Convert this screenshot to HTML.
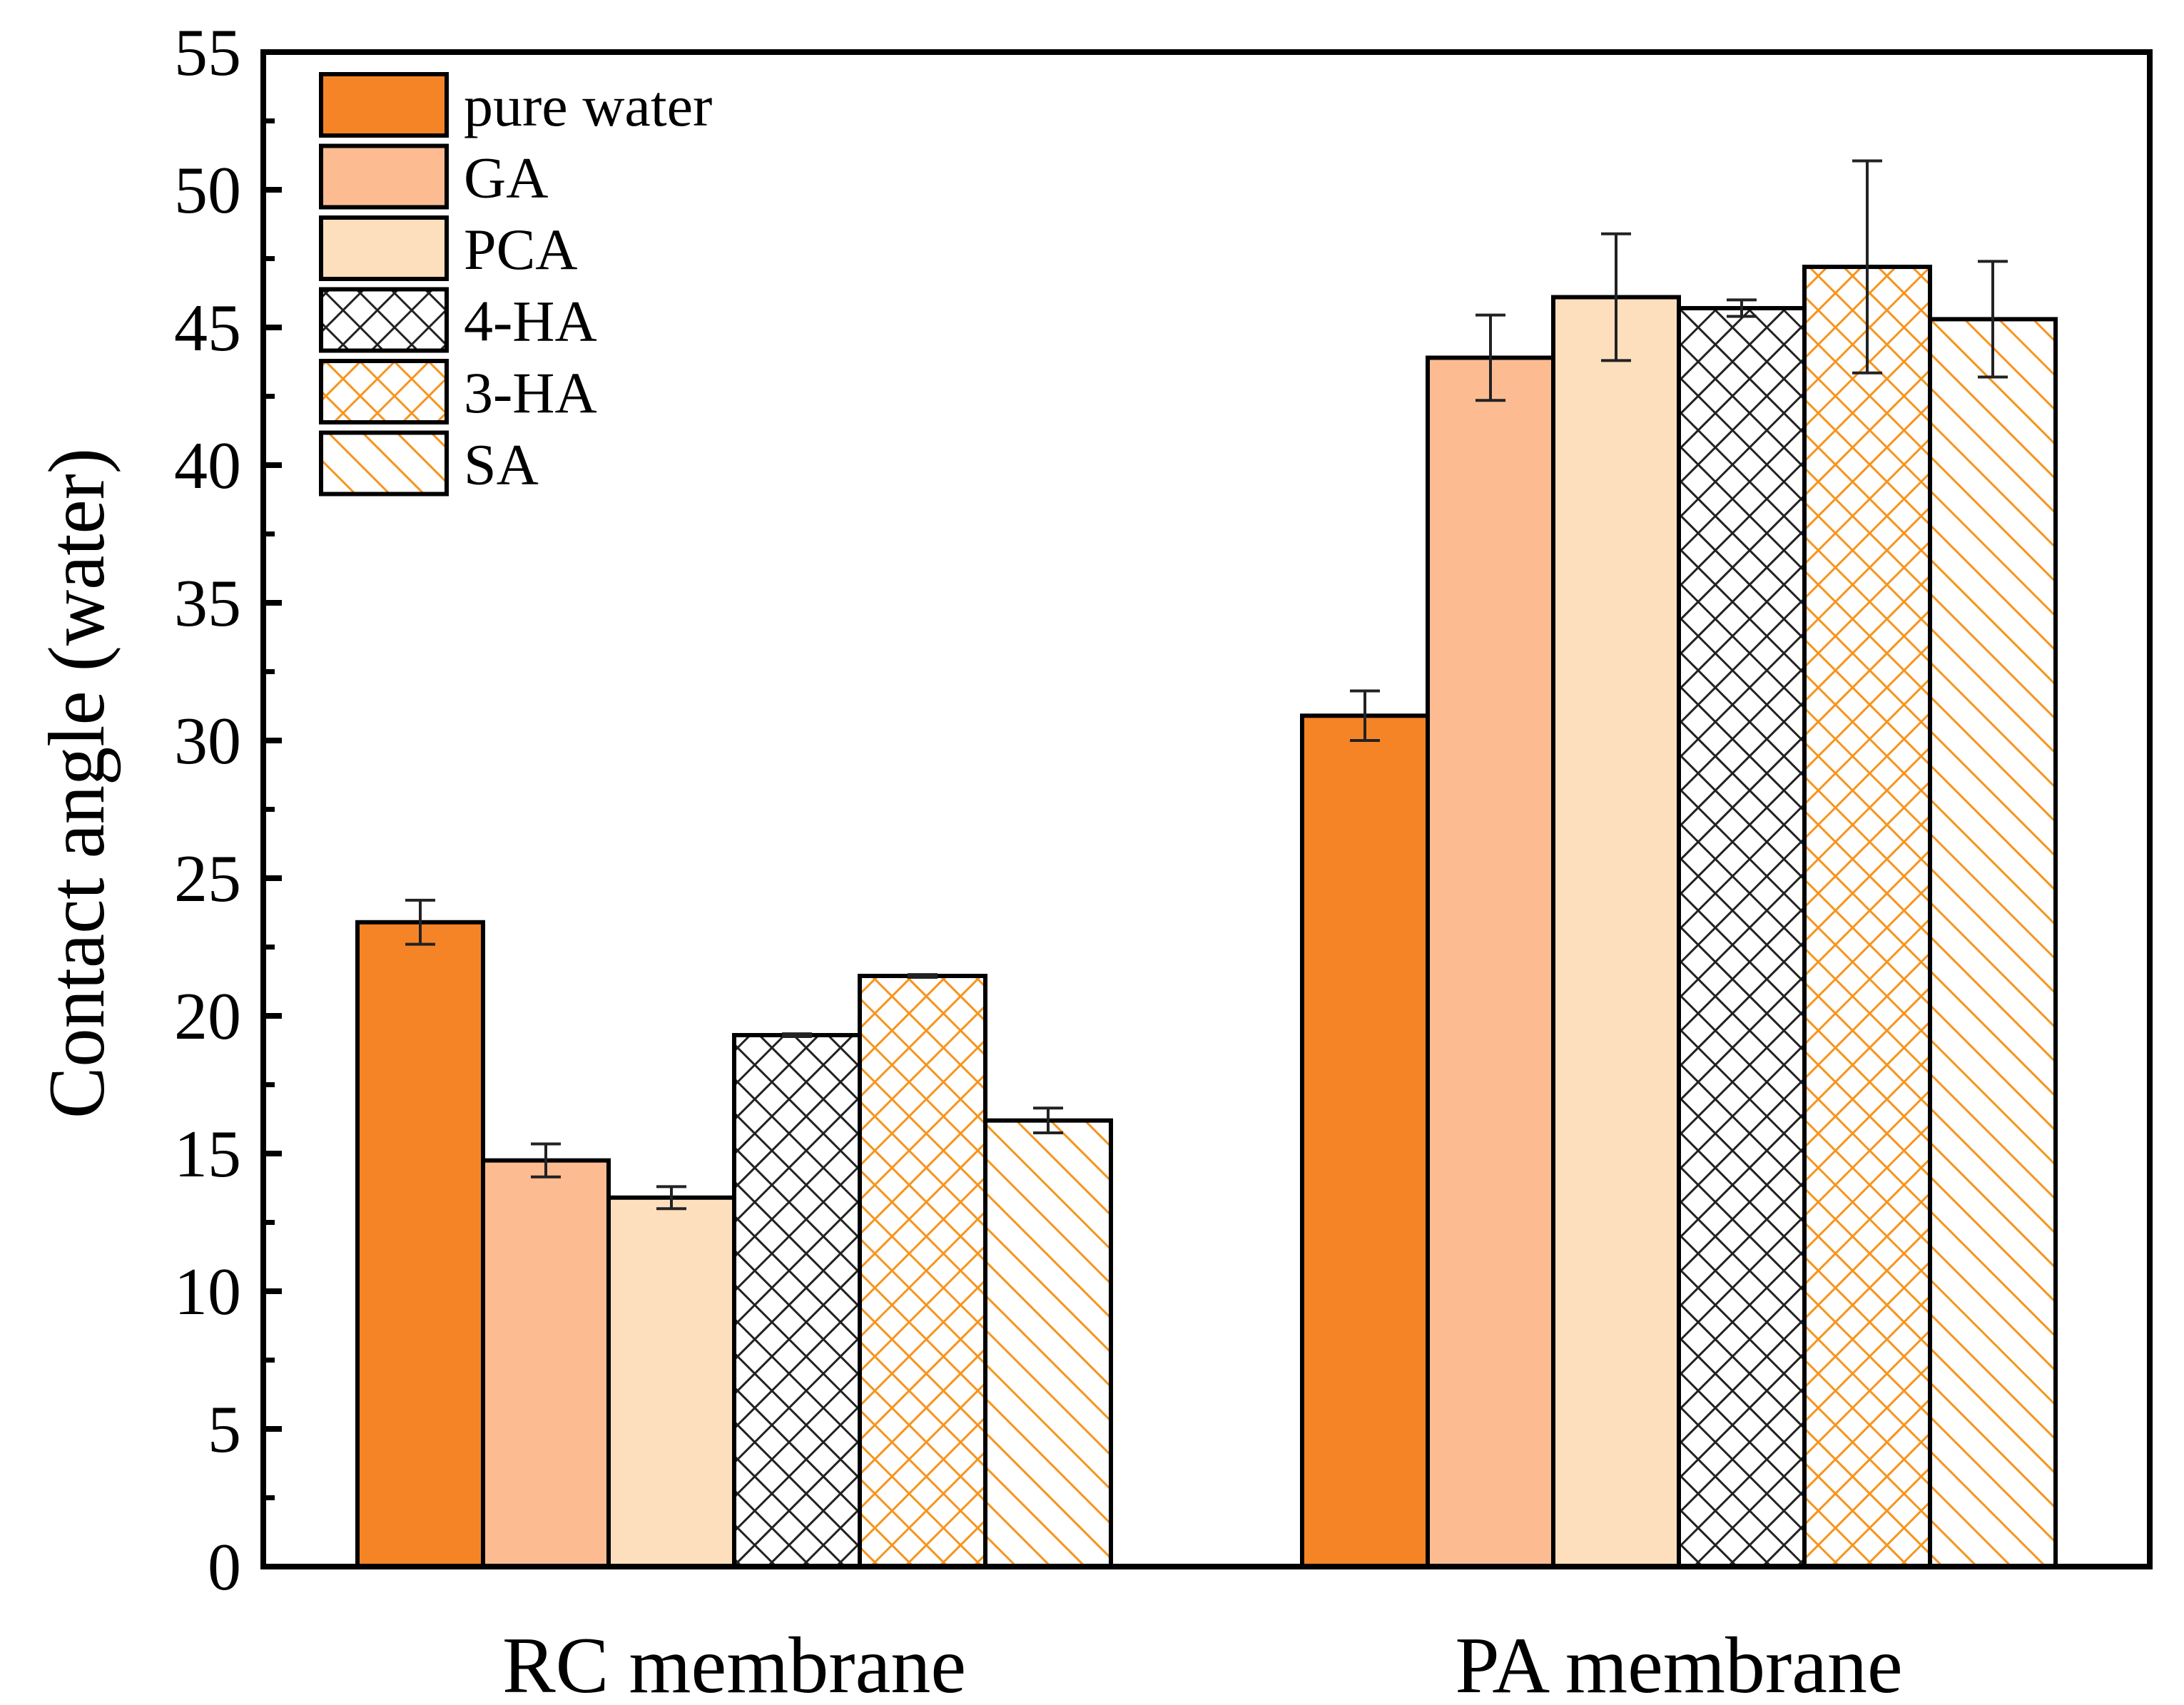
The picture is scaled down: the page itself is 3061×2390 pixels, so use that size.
<!DOCTYPE html>
<html><head><meta charset="utf-8"><style>
html,body{margin:0;padding:0;background:#fff}
svg{display:block}
text{font-family:"Liberation Serif",serif;fill:#000}
</style></head><body>
<svg id="chart" width="3061" height="2390" viewBox="0 0 3061 2390" xmlns="http://www.w3.org/2000/svg">
<defs>
<pattern id="p-cross-black" patternUnits="userSpaceOnUse" width="34" height="34" patternTransform="rotate(45)">
<rect width="34" height="34" fill="#fff"/>
<line x1="0" y1="0" x2="0" y2="34" stroke="#222" stroke-width="6"/>
<line x1="0" y1="0" x2="34" y2="0" stroke="#222" stroke-width="6"/>
</pattern>
<pattern id="p-cross-orange" patternUnits="userSpaceOnUse" width="34" height="34" patternTransform="rotate(45)">
<rect width="34" height="34" fill="#fff"/>
<line x1="0" y1="0" x2="0" y2="34" stroke="#f7941d" stroke-width="6"/>
<line x1="0" y1="0" x2="34" y2="0" stroke="#f7941d" stroke-width="6"/>
</pattern>
<pattern id="p-diag-orange" patternUnits="userSpaceOnUse" width="34" height="34" patternTransform="rotate(45)">
<rect width="34" height="34" fill="#fff"/>
<line x1="0" y1="0" x2="34" y2="0" stroke="#f7941d" stroke-width="6"/>
</pattern>
</defs>
<g id="bars"></g>
<g id="errors"></g>
<g id="axes"></g>
<g id="legend"></g>
</svg>
<script>
const categories = ["RC membrane", "PA membrane"];
const seriesNames = ["pure water", "GA", "PCA", "4-HA", "3-HA", "SA"];
const rcValues = [23.4, 14.75, 13.4, 19.3, 21.45, 16.2];
const rcErrors = [0.8, 0.6, 0.4, 0.05, 0.05, 0.45];
const paValues = [30.9, 43.9, 46.1, 45.7, 47.2, 45.3];
const paErrors = [0.9, 1.55, 2.3, 0.3, 3.85, 2.1];
const yTicks = [0, 5, 10, 15, 20, 25, 30, 35, 40, 45, 50, 55];

const fills = ["#f58427", "#fcbb91", "#fedfbd", "url(#p-cross-black)", "url(#p-cross-orange)", "url(#p-diag-orange)"];
const NS = "http://www.w3.org/2000/svg";
const X0 = 369, X1 = 3013, Y0 = 2196, Ymax = 55, Ytop = 73;
function y(v){ return Y0 - (Y0 - Ytop) * v / Ymax; }
const groupStart = [501, 1825];
const barW = 176;
function x(g, i){ return groupStart[g] + i * barW; }
function mk(tag, attrs, parent){
  const e = document.createElementNS(NS, tag);
  for (const k in attrs) e.setAttribute(k, attrs[k]);
  parent.appendChild(e); return e;
}
const gb = document.getElementById("bars"), ge = document.getElementById("errors");
const ga = document.getElementById("axes"), gl = document.getElementById("legend");
const allVals = [rcValues, paValues], allErr = [rcErrors, paErrors];
for (let g = 0; g < 2; g++) {
  for (let i = 0; i < seriesNames.length; i++) {
    const v = allVals[g][i], e = allErr[g][i];
    const r = mk("rect", {x: x(g,i), y: y(v), width: barW, height: Y0 - y(v), fill: fills[i], stroke: "#000", "stroke-width": 6}, gb);
    
    
    const cx = x(g,i) + barW/2;
    const eg = mk("g", {stroke: "#222", "stroke-width": 4}, ge);
    
    
    mk("line", {x1: cx, x2: cx, y1: y(v+e), y2: y(v-e)}, eg);
    mk("line", {x1: cx-21, x2: cx+21, y1: y(v+e), y2: y(v+e)}, eg);
    mk("line", {x1: cx-21, x2: cx+21, y1: y(v-e), y2: y(v-e)}, eg);
  }
}
const fr = mk("rect", {x: X0, y: Ytop, width: X1 - X0, height: Y0 - Ytop, fill: "none", stroke: "#000", "stroke-width": 8}, ga);


for (let k = 0; k < yTicks.length; k++) {
  const t = yTicks[k], yy = y(t);
  if (t > 0 && t < 55) mk("line", {x1: X0, x2: X0 + 26, y1: yy, y2: yy, stroke: "#000", "stroke-width": 8}, ga);
  if (k < yTicks.length - 1) {
    const ym = y(t + 2.5);
    mk("line", {x1: X0, x2: X0 + 16, y1: ym, y2: ym, stroke: "#000", "stroke-width": 7}, ga);
  }
  const tl = mk("text", {x: 338, y: yy + 32, "font-size": 94, "text-anchor": "end"}, ga);
  tl.textContent = t;
  
  
}
for (let g = 0; g < 2; g++) {
  const cx = groupStart[g] + barW * seriesNames.length / 2;
  const ct = mk("text", {x: cx, y: 2372, "font-size": 112, "text-anchor": "middle"}, ga);
  ct.textContent = categories[g];
  
  
}
const yt = mk("text", {x: 0, y: 0, "font-size": 112, "text-anchor": "middle", transform: "translate(145,1098) rotate(-90)", textLength: 940, lengthAdjust: "spacingAndGlyphs"}, ga);
yt.textContent = "Contact angle (water)";


for (let i = 0; i < seriesNames.length; i++) {
  const ly = 104 + i * 100.5;
  const le = mk("g", {}, gl);
  
  
  mk("rect", {x: 450, y: ly, width: 176, height: 86, fill: fills[i], stroke: "#000", "stroke-width": 6}, le);
  const lt = mk("text", {x: 650, y: ly + 72, "font-size": 82}, le);
  lt.textContent = seriesNames[i];
}
</script>
</body></html>
